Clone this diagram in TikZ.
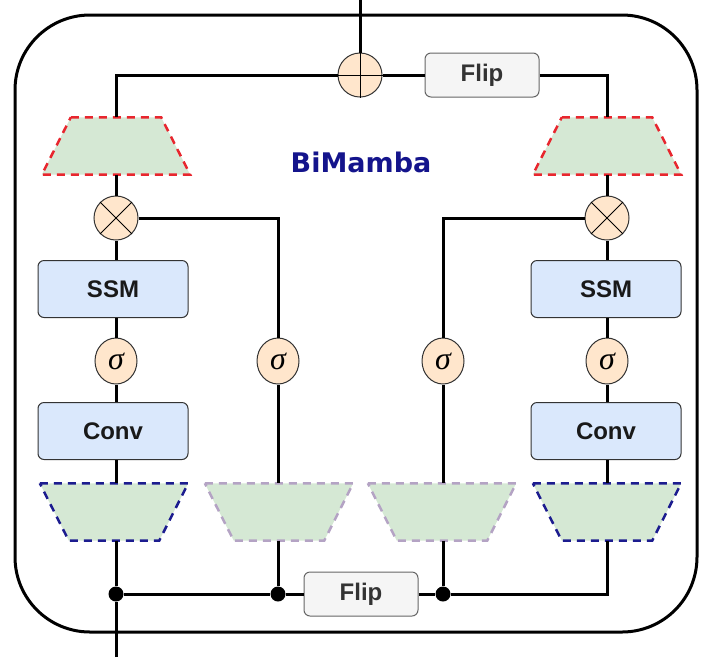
\documentclass[tikz,border=0pt]{standalone}
\usepackage{fontspec}
\setmainfont{Liberation Sans}
\newfontfamily\titlefont{DejaVu Sans}
\newfontfamily\greekfont{Liberation Serif}
\usetikzlibrary{positioning,shapes.geometric}
\definecolor{projgreen}{HTML}{D5E8D4}
\definecolor{opfill}{HTML}{FFE6CC}
\definecolor{boxblue}{HTML}{DAE8FC}
\definecolor{flipgray}{HTML}{F5F5F5}
\definecolor{flipline}{HTML}{666666}
\definecolor{dashred}{HTML}{E8262E}
\definecolor{dashnavy}{HTML}{1C1C8F}
\definecolor{dashlilac}{HTML}{B4A3C4}
\definecolor{titleblue}{HTML}{14148C}
\tikzset{%
	wire/.style     = {line width=3pt},
	block/.style    = {draw=black!80, fill=boxblue, line width=1pt, rounded corners=6pt, minimum width=150pt, minimum height=57pt, inner sep=0pt, text centered, font=\fontsize{24}{28}\selectfont\bfseries, text=black!90},
	flipbox/.style  = {draw=flipline, fill=flipgray, line width=1pt, rounded corners=6pt, minimum width=114pt, minimum height=44pt, inner sep=0pt, text centered, font=\fontsize{24}{28}\selectfont\bfseries, text=black!80},
	op/.style       = {draw=black!80, fill=opfill, line width=1pt, circle, minimum size=44pt, inner sep=0pt},
	act/.style      = {draw=black!80, fill=opfill, line width=1pt, ellipse, minimum width=42pt, minimum height=46pt, inner sep=0pt, font=\greekfont\itshape\fontsize{32}{34}\selectfont},
	projbox/.style  = {rectangle, minimum width=148pt, minimum height=57pt, inner sep=0pt},
	proj/.style     = {fill=projgreen, line width=2.5pt, dash pattern=on 8pt off 6pt},
	dot/.style      = {circle, fill=black, inner sep=0pt, minimum size=15pt},
}
\newcommand{\projup}[2]{\draw[proj, draw=#2] ([xshift=29pt]#1.north west) -- ([xshift=-29pt]#1.north east) -- (#1.south east) -- (#1.south west) -- cycle;}
\newcommand{\projdown}[2]{\draw[proj, draw=#2] (#1.north west) -- (#1.north east) -- ([xshift=-29pt]#1.south east) -- ([xshift=29pt]#1.south west) -- cycle;}
\begin{document}
\begin{tikzpicture}[x=1pt,y=-1pt]
		\useasboundingbox (0,0) rectangle (704,657);
		\draw[line width=3pt, rounded corners=75pt] (15,15) rectangle (697,632);
		\node[op] (plus) at (360,75) {};
		\draw[line width=1pt] (plus.north) -- (plus.south) (plus.west) -- (plus.east);
		\node[flipbox] (fliptop) at (482,75) {Flip};
		\node[projbox] (outL) at (116,146) {};
		\node[projbox] (outR) at (607,146) {};
		\projup{outL}{dashred}
		\projup{outR}{dashred}
		\node[font=\titlefont\fontsize{27}{30}\selectfont\bfseries, text=titleblue] (title) at (361,162) {BiMamba};
		\node[op] (mulL) at (116,218) {};
		\node[op] (mulR) at (607,218) {};
		\draw[line width=1pt] (mulL.45) -- (mulL.225) (mulL.135) -- (mulL.315);
		\draw[line width=1pt] (mulR.45) -- (mulR.225) (mulR.135) -- (mulR.315);
		\node[block] (ssmL) at (113,289) {SSM};
		\node[block] (ssmR) at (606,289) {SSM};
		\node[act] (sigL) at (116,361) {σ};
		\node[act] (sigA) at (278,361) {σ};
		\node[act] (sigB) at (443,361) {σ};
		\node[act] (sigR) at (607,361) {σ};
		\node[block] (convL) at (113,431) {Conv};
		\node[block] (convR) at (606,431) {Conv};
		\node[projbox] (inL) at (114,512) {};
		\node[projbox] (inA) at (279,512) {};
		\node[projbox] (inB) at (442,512) {};
		\node[projbox] (inR) at (607,512) {};
		\projdown{inL}{dashnavy}
		\projdown{inA}{dashlilac}
		\projdown{inB}{dashlilac}
		\projdown{inR}{dashnavy}
		\node[dot] (jL) at (116,594) {};
		\node[dot] (jA) at (278,594) {};
		\node[dot] (jB) at (443,594) {};
		\node[flipbox] (flipbot) at (361,594) {Flip};
		\coordinate (top) at (360,0);
		\coordinate (bottom) at (116,657);
		\coordinate (turn) at (607,594);
		\draw[wire] (top) -- (plus);
		\draw[wire] (plus) -| (outL);
		\draw[wire] (plus) -- (fliptop);
		\draw[wire] (fliptop) -| (outR);
		\draw[wire] (outL) -- (mulL);
		\draw[wire] (outR) -- (mulR);
		\draw[wire] (mulL) -- (mulL |- ssmL.north);
		\draw[wire] (mulR) -- (mulR |- ssmR.north);
		\draw[wire] (sigL |- ssmL.south) -- (sigL);
		\draw[wire] (sigR |- ssmR.south) -- (sigR);
		\draw[wire] (sigL) -- (sigL |- convL.north);
		\draw[wire] (sigR) -- (sigR |- convR.north);
		\draw[wire] (jL |- convL.south) -- (jL |- inL.north);
		\draw[wire] (turn |- convR.south) -- (turn |- inR.north);
		\draw[wire] (mulL) -| (sigA);
		\draw[wire] (mulR) -| (sigB);
		\draw[wire] (sigA) -- (sigA |- inA.north);
		\draw[wire] (sigB) -- (sigB |- inB.north);
		\draw[wire] (jL |- inL.south) -- (jL);
		\draw[wire] (jA |- inA.south) -- (jA);
		\draw[wire] (jB |- inB.south) -- (jB);
		\draw[wire] (bottom) -- (jL);
		\draw[wire] (jL) -- (jA);
		\draw[wire] (jA) -- (flipbot);
		\draw[wire] (flipbot) -- (jB);
		\draw[wire] (jB) -- (turn) -- (turn |- inR.south);
		\end{tikzpicture}
\end{document}
